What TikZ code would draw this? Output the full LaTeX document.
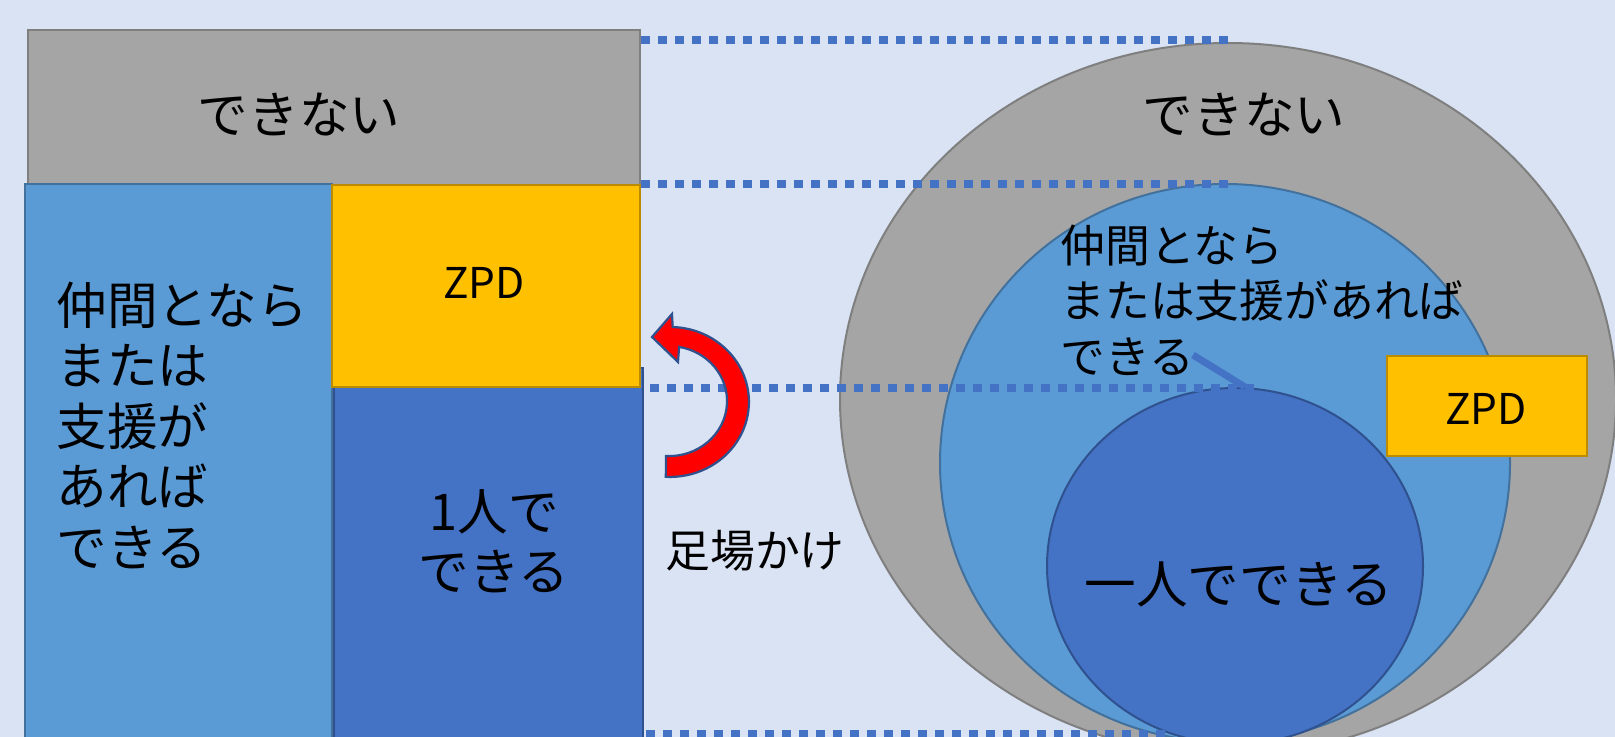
\documentclass[tikz,border=0pt]{standalone}
\usepackage{fontspec}
\newfontfamily\jp{Noto Sans CJK JP}
\usetikzlibrary{shapes.geometric}
\definecolor{bg}{HTML}{DAE3F3}
\definecolor{grayf}{HTML}{A5A5A5}
\definecolor{grayd}{HTML}{7F7F7F}
\definecolor{lblue}{HTML}{5B9BD5}
\definecolor{lblued}{HTML}{41719C}
\definecolor{dblue}{HTML}{4472C4}
\definecolor{dblued}{HTML}{2F528F}
\definecolor{yel}{HTML}{FFC000}
\definecolor{yeld}{HTML}{BC8C00}
\definecolor{dotc}{HTML}{4472C4}
\tikzset{
  dots/.style={draw=dotc, line width=4.4pt, dash pattern=on 4.3pt off 4.2pt},
  jtxt/.style={font=\jp\fontsize{25.3}{30.25}\selectfont, text=black, inner sep=0pt},
  jbig/.style={font=\jp\fontsize{25.8}{30}\selectfont, text=black, inner sep=0pt},
  jsmall/.style={font=\jp\fontsize{22.4}{27.75}\selectfont, text=black, inner sep=0pt},
  zpdtxt/.style={font=\jp\fontsize{21.2}{25}\selectfont, text=black, inner sep=0pt},
  boxline/.style={line width=1pt},
  conn/.style={draw=dotc, line width=3.5pt},
}
\begin{document}
\begin{tikzpicture}[x=0.5pt,y=-0.5pt]
\useasboundingbox (0,0) rectangle (1615,737);
\clip (0,0) rectangle (1615,737);
\fill[bg] (0,0) rectangle (1615,737);

% left panel
\draw[boxline, fill=grayf, draw=grayd] (28,30) rectangle (640,185);
\node[jtxt] (lno) at (299,115) {できない};
\draw[boxline, fill=lblue, draw=lblued] (25,184) rectangle (332,760);
\draw[boxline, fill=dblue, draw=dblued] (334,368) rectangle (643,760);
\draw[boxline, fill=yel, draw=yeld] (332,185) rectangle (640,387);
\node[jtxt, anchor=west, align=left] (lcan) at (56,425) {仲間となら\\または\\支援が\\あれば\\できる};
\node[zpdtxt] (lzpd) at (484,283) {ZPD};
\node[jtxt, align=center] (lone) at (494,541) {1人で\\できる};

% right panel
\node[ellipse, inner sep=0pt, minimum width=388pt, minimum height=356pt, fill=grayf, draw=grayd, boxline] (gE) at (1228,399) {};
\node[ellipse, inner sep=0pt, minimum width=285pt, minimum height=279pt, fill=lblue, draw=lblued, boxline] (mE) at (1225,463) {};
\node[ellipse, inner sep=0pt, minimum width=188pt, minimum height=178pt, fill=dblue, draw=dblued, boxline] (dC) at (1235,566) {};
\node[rectangle, inner sep=0pt, minimum width=100pt, minimum height=50pt, fill=yel, draw=yeld, boxline] (rzb) at (1487,406) {};
\node[zpdtxt] (rzpd) at (1486,409) {ZPD};
\node[jtxt] (rno) at (1244,115) {できない};
\node[jsmall, anchor=west, align=left] (rcan) at (1060,300) {仲間となら\\または支援があれば\\できる};
\node[jbig] (rone) at (1239,584) {一人でできる};

% connector
\coordinate (cst) at (1193,355);
\draw[conn] (cst) -- ([xshift=5pt]dC.north);

% dotted guide lines
\coordinate (d1a) at (641,40);  \coordinate (d1b) at (1228,40);
\coordinate (d2a) at (641,184); \coordinate (d2b) at (1228,184);
\coordinate (d3a) at (650,388); \coordinate (d3b) at (1258,388);
\coordinate (d4a) at (646,734); \coordinate (d4b) at (1165,734);
\draw[dots] (d1a) -- (d1b);
\draw[dots] (d2a) -- (d2b);
\draw[dots] (d3a) -- (d3b);
\draw[dots] (d4a) -- (d4b);

% red arrow (on top of the dotted line)
\filldraw[fill=red, draw=dblued, line width=1.1pt]
  (672.7,327.0) arc[start angle=88, end angle=-93, x radius=39.5pt, y radius=37.5pt]
  -- (666,456) arc[start angle=-93, end angle=80, x radius=29pt, y radius=27.5pt]
  -- (678,362) -- (652,337) -- (672,314) -- cycle;
\node[jsmall] (ashi) at (755,551) {足場かけ};
\end{tikzpicture}
\end{document}
